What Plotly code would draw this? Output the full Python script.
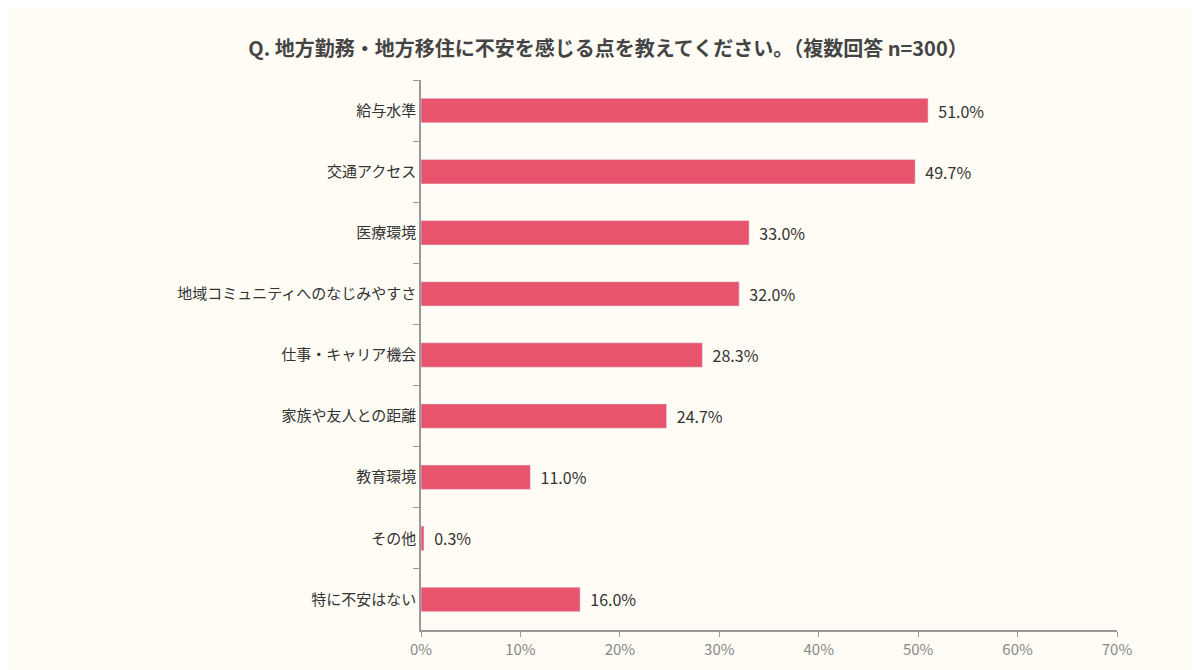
import plotly.graph_objects as go

categories = ["給与水準", "交通アクセス", "医療環境", "地域コミュニティへのなじみやすさ",
              "仕事・キャリア機会", "家族や友人との距離", "教育環境", "その他", "特に不安はない"]
values = [51.0, 49.7, 33.0, 32.0, 28.3, 24.7, 11.0, 0.3, 16.0]

font = "Noto Sans CJK JP"
fig = go.Figure(go.Bar(
    x=values, y=categories, orientation="h",
    marker=dict(color="#E8546E"),
    text=[f"  {v:.1f}%" for v in values], textposition="outside",
    textfont=dict(size=16, color="#333333"), cliponaxis=False,
))
fig.update_layout(
    width=1200, height=670,
    paper_bgcolor="#FFFCF5", plot_bgcolor="#FFFCF5",
    font=dict(family=font, color="#333333"),
    title=dict(text="<b>Q. 地方勤務・地方移住に不安を感じる点を教えてください。（複数回答 n=300）</b>",
               x=0.5, y=0.95, xanchor="center", font=dict(size=20, color="#444444")),
    margin=dict(l=413, r=91, t=72, b=48),
    bargap=0.6, showlegend=False,
)
fig.update_xaxes(range=[0, 70], dtick=10, ticksuffix="%", showgrid=False, zeroline=False,
                 showline=True, linecolor="#999999", linewidth=1.5, ticks="outside",
                 tickcolor="#999999", ticklen=5, tickfont=dict(size=15, color="#888888"))
fig.update_yaxes(autorange="reversed", showline=True, linecolor="#999999", linewidth=1.5,
                 ticks="outside", tickson="boundaries", tickcolor="#999999", ticklen=6,
                 tickfont=dict(size=15, color="#333333"), showgrid=False)
fig.write_html("out.html")
